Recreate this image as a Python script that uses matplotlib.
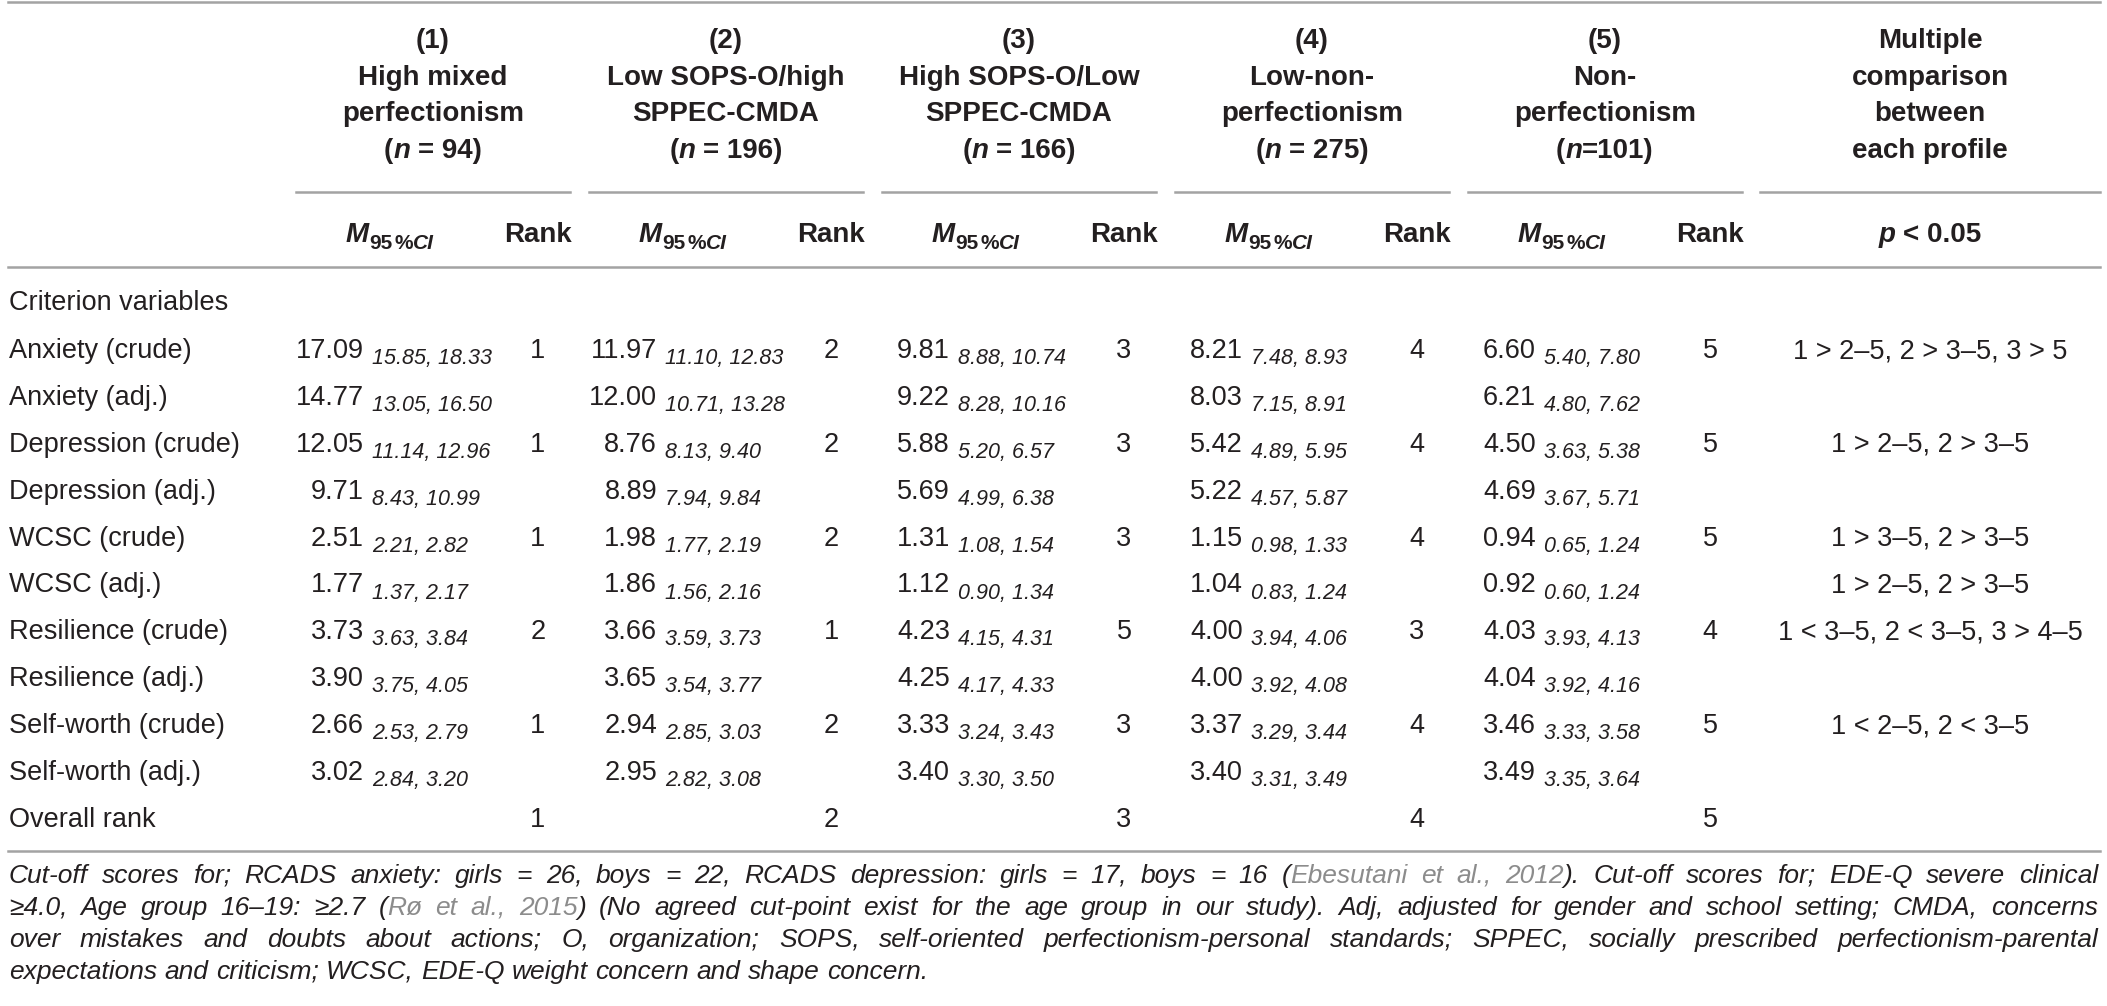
import matplotlib
matplotlib.use("Agg")
import matplotlib.pyplot as plt

# ---- table content ----
group_num = ["(1)", "(2)", "(3)", "(4)", "(5)"]
group_name = [["High mixed", "perfectionism"],
              ["Low SOPS-O/high", "SPPEC-CMDA"],
              ["High SOPS-O/Low", "SPPEC-CMDA"],
              ["Low-non-", "perfectionism"],
              ["Non-", "perfectionism"]]
group_n = ["= 94)", "= 196)", "= 166)", "= 275)", "=101)"]
compare_head = ["Multiple", "comparison", "between", "each profile"]

row_labels = ["Anxiety (crude)", "Anxiety (adj.)", "Depression (crude)", "Depression (adj.)",
              "WCSC (crude)", "WCSC (adj.)", "Resilience (crude)", "Resilience (adj.)",
              "Self-worth (crude)", "Self-worth (adj.)"]

# means and 95% CI per profile, one entry per row
mean_1 = [17.09, 14.77, 12.05, 9.71, 2.51, 1.77, 3.73, 3.90, 2.66, 3.02]
ci_1 = [(15.85, 18.33), (13.05, 16.50), (11.14, 12.96), (8.43, 10.99), (2.21, 2.82),
        (1.37, 2.17), (3.63, 3.84), (3.75, 4.05), (2.53, 2.79), (2.84, 3.20)]
mean_2 = [11.97, 12.00, 8.76, 8.89, 1.98, 1.86, 3.66, 3.65, 2.94, 2.95]
ci_2 = [(11.10, 12.83), (10.71, 13.28), (8.13, 9.40), (7.94, 9.84), (1.77, 2.19),
        (1.56, 2.16), (3.59, 3.73), (3.54, 3.77), (2.85, 3.03), (2.82, 3.08)]
mean_3 = [9.81, 9.22, 5.88, 5.69, 1.31, 1.12, 4.23, 4.25, 3.33, 3.40]
ci_3 = [(8.88, 10.74), (8.28, 10.16), (5.20, 6.57), (4.99, 6.38), (1.08, 1.54),
        (0.90, 1.34), (4.15, 4.31), (4.17, 4.33), (3.24, 3.43), (3.30, 3.50)]
mean_4 = [8.21, 8.03, 5.42, 5.22, 1.15, 1.04, 4.00, 4.00, 3.37, 3.40]
ci_4 = [(7.48, 8.93), (7.15, 8.91), (4.89, 5.95), (4.57, 5.87), (0.98, 1.33),
        (0.83, 1.24), (3.94, 4.06), (3.92, 4.08), (3.29, 3.44), (3.31, 3.49)]
mean_5 = [6.60, 6.21, 4.50, 4.69, 0.94, 0.92, 4.03, 4.04, 3.46, 3.49]
ci_5 = [(5.40, 7.80), (4.80, 7.62), (3.63, 5.38), (3.67, 5.71), (0.65, 1.24),
        (0.60, 1.24), (3.93, 4.13), (3.92, 4.16), (3.33, 3.58), (3.35, 3.64)]

# ranks of the crude rows (None = no rank shown)
ranks = [[1, 2, 3, 4, 5], None, [1, 2, 3, 4, 5], None, [1, 2, 3, 4, 5], None,
         [2, 1, 5, 3, 4], None, [1, 2, 3, 4, 5], None]
overall_rank = [1, 2, 3, 4, 5]

comparisons = ["1 > 2\u20135, 2 > 3\u20135, 3 > 5", "", "1 > 2\u20135, 2 > 3\u20135", "",
               "1 > 3\u20135, 2 > 3\u20135", "1 > 2\u20135, 2 > 3\u20135",
               "1 < 3\u20135, 2 < 3\u20135, 3 > 4\u20135", "", "1 < 2\u20135, 2 < 3\u20135", ""]

# grey parts (citations) are wrapped in {}
footnote = [
    "Cut-off scores for; RCADS anxiety: girls = 26, boys = 22, RCADS depression: girls = 17, "
    "boys = 16 ({Ebesutani et al., 2012}). Cut-off scores for; EDE-Q severe clinical",
    "\u22654.0, Age group 16\u201319: \u22652.7 ({R\u00f8 et al., 2015}) (No agreed cut-point exist for "
    "the age group in our study). Adj, adjusted for gender and school setting; CMDA, concerns",
    "over mistakes and doubts about actions; O, organization; SOPS, self-oriented "
    "perfectionism-personal standards; SPPEC, socially prescribed perfectionism-parental",
    "expectations and criticism; WCSC, EDE-Q weight concern and shape concern.",
]

means = [mean_1, mean_2, mean_3, mean_4, mean_5]
cis = [ci_1, ci_2, ci_3, ci_4, ci_5]

# ---- figure set up in pixel coordinates ----
W, H = 2107, 1006
fig = plt.figure(figsize=(W / 100, H / 100), dpi=100)
ax = fig.add_axes([0, 0, 1, 1])
ax.set_xlim(0, W)
ax.set_ylim(H, 0)
ax.axis("off")
renderer = fig.canvas.get_renderer()

FONT = ["Liberation Sans", "DejaVu Sans"]
INK = "#231f20"
GREY = "#8c8c8c"
RULE = "#a3a3a3"


def kw(size, weight="normal", style="normal", color=INK):
    return dict(fontsize=size, fontweight=weight, fontstyle=style, color=color, family=FONT)


def measure(s, props):
    t = ax.text(0, 0, s, **props)
    w = t.get_window_extent(renderer).width
    t.remove()
    return w


def space_width(props):
    return measure("a a", props) - measure("aa", props)


def draw_run(pieces, x, y, ha="left"):
    # pieces: (text, props, dy); text " " stands for one word space
    widths = [space_width(p) if s == " " else measure(s, p) for s, p, dy in pieces]
    total = sum(widths)
    if ha == "center":
        x -= total / 2
    elif ha == "right":
        x -= total
    for (s, p, dy), w in zip(pieces, widths):
        if s != " ":
            ax.text(x, y + dy, s, ha="left", va="baseline", **p)
        x += w


BODY = 19.5
HEAD = 20
SUB = 15.5
B = kw(HEAD, "bold")
BI = kw(HEAD, "bold", "italic")

col_step = 293
head_cx = 433
mean_right = 364
rank_cx = 538
m_label_cx = 390
cmp_cx = 1930

# rules
lw = 1.8
ax.plot([8, 2100], [2, 2], color=RULE, lw=lw)
for k in range(5):
    x0 = 296 + col_step * k
    ax.plot([x0, x0 + 274], [192, 192], color=RULE, lw=lw)
ax.plot([1760, 2100], [192, 192], color=RULE, lw=lw)
ax.plot([8, 2100], [267, 267], color=RULE, lw=lw)
ax.plot([8, 2100], [851, 851], color=RULE, lw=lw)

# column headers
head_base = [48, 84.5, 121, 158]
for k in range(5):
    cx = head_cx + col_step * k
    ax.text(cx, head_base[0], group_num[k], ha="center", va="baseline", **B)
    for j, line in enumerate(group_name[k]):
        ax.text(cx, head_base[1 + j], line, ha="center", va="baseline", **B)
    pieces = [("(", B, 0), ("n", BI, 0)]
    if group_n[k].startswith("= "):
        pieces.append((" ", B, 0))
    pieces.append((group_n[k], B, 0))
    draw_run(pieces, cx, head_base[3], ha="center")
for j, line in enumerate(compare_head):
    ax.text(cmp_cx, head_base[j], line, ha="center", va="baseline", **B)

# sub headers
sb = 242
small_b = kw(15, "bold")
small_bi = kw(15, "bold", "italic")
for k in range(5):
    draw_run([("M", BI, 0), ("95", small_b, 7), (" ", kw(7, "bold"), 7),
              ("%", small_b, 7), ("CI", small_bi, 7)],
             m_label_cx + col_step * k, sb, ha="center")
    ax.text(rank_cx + col_step * k, sb, "Rank", ha="center", va="baseline", **B)
draw_run([("p", BI, 0), (" ", B, 0), ("< 0.05", B, 0)], cmp_cx, sb, ha="center")

# body
body = kw(BODY)
ci_kw = kw(SUB, style="italic")
ax.text(9, 310, "Criterion variables", ha="left", va="baseline", **body)
row_step = 46.9
for i, label in enumerate(row_labels):
    y = 358 + row_step * i
    ax.text(9, y, label, ha="left", va="baseline", **body)
    for k in range(5):
        xr = mean_right + col_step * k
        ax.text(xr, y, f"{means[k][i]:.2f}", ha="right", va="baseline", **body)
        lo, hi = cis[k][i]
        ax.text(xr + 8, y + 6, f"{lo:.2f}, {hi:.2f}", ha="left", va="baseline", **ci_kw)
        if ranks[i] is not None:
            ax.text(rank_cx + col_step * k, y, str(ranks[i][k]), ha="center",
                    va="baseline", **body)
    if comparisons[i]:
        ax.text(cmp_cx, y, comparisons[i], ha="center", va="baseline", **body)

y = 358 + row_step * len(row_labels)
ax.text(9, y, "Overall rank", ha="left", va="baseline", **body)
for k in range(5):
    ax.text(rank_cx + col_step * k, y, str(overall_rank[k]), ha="center", va="baseline", **body)


# footnote, justified
def parse_words(line):
    words, segs, buf, grey = [], [], "", False
    for ch in line + " ":
        if ch in "{}":
            if buf:
                segs.append((buf, grey))
                buf = ""
            grey = ch == "{"
        elif ch == " ":
            if buf:
                segs.append((buf, grey))
                buf = ""
            if segs:
                words.append(segs)
                segs = []
        else:
            buf += ch
    return words


FOOT = 19
fk = kw(FOOT, style="italic")
fk_grey = kw(FOOT, style="italic", color=GREY)
x_left, x_right = 9, 2098
foot_space = space_width(fk)
for li, line in enumerate(footnote):
    y = 883 + 32 * li
    words = parse_words(line)
    wlist = []
    for segs in words:
        wlist.append([measure(s, fk_grey if g else fk) for s, g in segs])
    total = sum(sum(w) for w in wlist)
    if li < len(footnote) - 1:
        gap = max((x_right - x_left - total) / (len(words) - 1), 0.6 * foot_space)
    else:
        gap = foot_space
    x = x_left
    for segs, ws in zip(words, wlist):
        for (s, g), w in zip(segs, ws):
            ax.text(x, y, s, ha="left", va="baseline", **(fk_grey if g else fk))
            x += w
        x += gap

fig.savefig("out.png", dpi=100)
